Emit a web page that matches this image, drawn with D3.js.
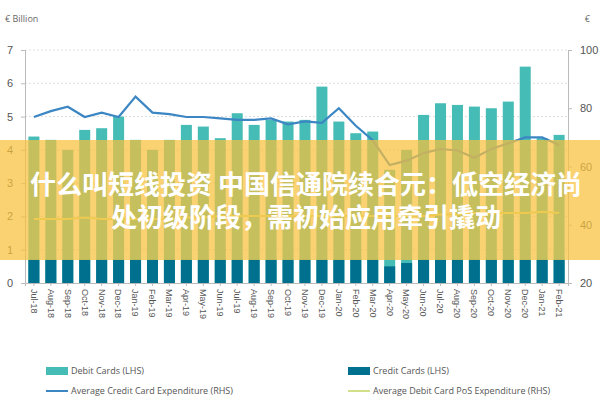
<!DOCTYPE html>
<html>
<head>
<meta charset="utf-8">
<script src="https://cdn.jsdelivr.net/npm/d3@7"></script>
<style>
  body { margin: 0; background: #fff; }
  svg { font-family: "Open Sans", sans-serif; }
</style>
</head>
<body>
<svg width="600" height="400"></svg>
<script>
const months = ["Jul-18","Aug-18","Sep-18","Oct-18","Nov-18","Dec-18","Jan-19","Feb-19","Mar-19","Apr-19","May-19","Jun-19","Jul-19","Aug-19","Sep-19","Oct-19","Nov-19","Dec-19","Jan-20","Feb-20","Mar-20","Apr-20","May-20","Jun-20","Jul-20","Aug-20","Sep-20","Oct-20","Nov-20","Dec-20","Jan-21","Feb-21"];
const debitCards = [4.4,4.3,4.0,4.6,4.65,5.0,4.3,4.0,4.3,4.75,4.7,4.35,5.1,4.75,4.9,4.85,4.9,5.9,4.85,4.5,4.55,3.4,4.0,5.05,5.4,5.35,5.3,5.25,5.45,6.5,4.35,4.45];
const creditCards = [0.7,0.7,0.7,0.7,0.7,0.7,0.7,0.7,0.7,0.7,0.7,0.7,0.7,0.7,0.7,0.7,0.7,0.7,0.7,0.7,0.7,0.5,0.6,0.7,0.7,0.7,0.7,0.7,0.7,0.7,0.7,0.7];
const avgCredit = [77,79,80.5,77,78.5,77,84,78.5,78,77,77,76.5,76,76,76.5,74.5,75.5,75,80,74,69,60.5,62,64.6,66,65.5,63,66,68,70,70,67.4];
const avgDebitPos = [42,42,42,42.5,42,42,42,42,42,42.5,42.5,43,43,43,43,43,43,43,43,43,43,43,43,43,43.5,43.5,44,44,44,44,44.5,44];
const leftTicks = [0,1,2,3,4,5,6,7];
const rightTicks = [20,40,60,80,100];
const legendItems = [
  {label: "Debit Cards (LHS)", type: "rect", color: "#45bcb5"},
  {label: "Credit Cards (LHS)", type: "rect", color: "#00708f"},
  {label: "Average Credit Card Expenditure (RHS)", type: "line", color: "#3c86c4"},
  {label: "Average Debit Card PoS Expenditure (RHS)", type: "line", color: "#d3e08a"}
];
const overlayLines = ["什么叫短线投资 中国信通院续合元：低空经济尚", "处初级阶段，需初始应用牵引撬动"];

const svg = d3.select("svg");
const m = {left: 25, right: 568, top: 50, bottom: 283};

const x = d3.scaleBand(months, [m.left, m.right]).paddingInner(0.35).paddingOuter(0.2);
const yL = d3.scaleLinear([0, 7], [m.bottom, m.top]);
const yR = d3.scaleLinear([20, 100], [m.bottom, m.top]);

// gridlines
svg.append("g").selectAll("line").data(leftTicks.slice(1)).join("line")
  .attr("x1", m.left).attr("x2", m.right)
  .attr("y1", d => yL(d)).attr("y2", d => yL(d))
  .attr("stroke", "#ddd").attr("stroke-dasharray", "2,2");

// axes
const axL = svg.append("g").attr("transform", `translate(${m.left},0)`)
  .call(d3.axisLeft(yL).tickValues(leftTicks).tickFormat(d3.format("d")).tickSize(4).tickPadding(8));
const axR = svg.append("g").attr("transform", `translate(${m.right},0)`)
  .call(d3.axisRight(yR).tickValues(rightTicks).tickSize(4).tickPadding(8));
const axB = svg.append("g").attr("transform", `translate(0,${m.bottom})`)
  .call(d3.axisBottom(x).tickSize(3).tickPadding(4));
[axL, axR, axB].forEach(g => {
  g.selectAll(".domain, .tick line").attr("stroke", "#bbb");
  g.selectAll("text").attr("fill", "#555").attr("font-size", 11);
});
axB.selectAll("text").attr("font-size", 9)
  .attr("transform", "rotate(90)").attr("text-anchor", "start")
  .attr("x", 6).attr("y", 0).attr("dy", "0.35em");

svg.append("text").attr("x", 5).attr("y", 22).attr("font-size", 9).attr("fill", "#666").text("€ Billion");
svg.append("text").attr("x", 590).attr("y", 22).attr("font-size", 9).attr("fill", "#666").attr("text-anchor", "end").text("€");

// bars
svg.append("g").selectAll("rect").data(months).join("rect")
  .attr("x", d => x(d)).attr("width", x.bandwidth())
  .attr("y", (d, i) => yL(debitCards[i])).attr("height", (d, i) => yL(0) - yL(debitCards[i]))
  .attr("fill", "#45bcb5");
svg.append("g").selectAll("rect").data(months).join("rect")
  .attr("x", d => x(d)).attr("width", x.bandwidth())
  .attr("y", (d, i) => yL(creditCards[i])).attr("height", (d, i) => yL(0) - yL(creditCards[i]))
  .attr("fill", "#00708f");

// lines
const cx = d => x(d) + x.bandwidth() / 2;
const line = vals => d3.line().x((d, i) => cx(months[i])).y(d => yR(d))(vals);
svg.append("path").attr("d", line(avgCredit)).attr("fill", "none")
  .attr("stroke", "#3c86c4").attr("stroke-width", 2.2);
svg.append("path").attr("d", line(avgDebitPos)).attr("fill", "none")
  .attr("stroke", "#d3e08a").attr("stroke-width", 2);

// legend
const lg = svg.append("g").selectAll("g").data(legendItems).join("g")
  .attr("transform", (d, i) => `translate(${i % 2 ? 348 : 46},${i < 2 ? 371 : 391})`);
lg.filter(d => d.type === "rect").append("rect").attr("x", 0).attr("y", -4).attr("width", 22).attr("height", 8).attr("fill", d => d.color);
lg.filter(d => d.type === "line").append("line").attr("x1", 0).attr("x2", 22).attr("stroke", d => d.color).attr("stroke-width", 2);
lg.append("text").attr("x", 25).attr("dy", "0.35em").attr("font-size", 9).attr("fill", "#555").text(d => d.label);

// overlay band
svg.append("rect").attr("x", 0).attr("y", 140).attr("width", 600).attr("height", 120)
  .attr("fill", "#f8c13c").attr("opacity", 0.72);
svg.append("g").selectAll("text").data(overlayLines).join("text")
  .attr("x", 306).attr("y", (d, i) => 194 + i * 33)
  .attr("text-anchor", "middle").attr("font-size", 26).attr("font-weight", "bold")
  .attr("font-family", "'Noto Sans CJK SC', sans-serif").attr("fill", "#fff")
  .text(d => d);
</script>
</body>
</html>
